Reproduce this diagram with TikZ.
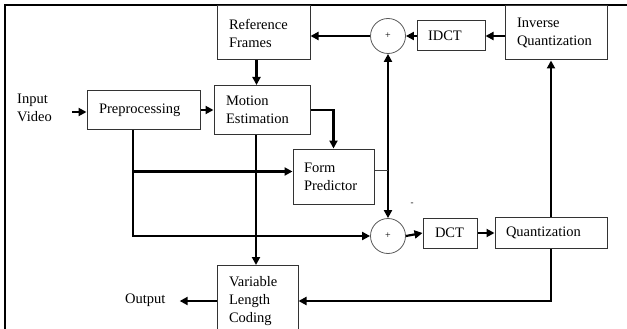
\documentclass[tikz,border=0pt]{standalone}
\usepackage{fontspec}
\setmainfont{Liberation Serif}
\usetikzlibrary{arrows.meta}
\begin{document}
\begin{tikzpicture}[x=1pt,y=-1pt,
  box/.style={draw=black!80,line width=1pt,rectangle,inner ysep=0pt,align=left,
     font=\fontsize{14.5}{18}\selectfont},
  sumc/.style={draw=black!65,line width=0.8pt,circle,minimum size=35pt,inner sep=0pt,
     font=\fontsize{10}{12}\selectfont},
  lbl/.style={inner sep=0pt,align=left,font=\fontsize{14.5}{18}\selectfont},
  tip/.tip={Triangle[length=8pt,width=8pt]},
  conn/.style={line width=2.2pt,-tip},
  thin/.style={line width=1pt,draw=black!75}]
\useasboundingbox (0,0) rectangle (627,329);
\clip (0,0) rectangle (627,329);
% frame
\draw[line width=2.8pt] (5,345) -- (5,5) -- (640,5);
% boxes
\node[box,inner xsep=12pt,text width=69pt,minimum height=54pt] (ref) at (263.5,33) {Reference\\Frames};
\node[box,inner xsep=12pt,text width=72pt,minimum height=49pt] (me) at (262,110) {Motion\\Estimation};
\node[box,inner xsep=12pt,text width=89pt,minimum height=39pt] (pre) at (143.5,110) {Preprocessing};
\node[box,inner xsep=11pt,text width=59pt,minimum height=55pt] (fp) at (333.5,176.5) {Form\\Predictor};
\node[box,inner xsep=12pt,text width=78pt,minimum height=54pt] (iq) at (556,33) {Inverse\\Quantization};
\node[box,inner xsep=11pt,text width=46pt,minimum height=30pt] (idct) at (451,36) {IDCT};
\node[box,inner xsep=12pt,text width=30pt,minimum height=30pt] (dct) at (450,233) {DCT};
\node[box,inner xsep=11pt,text width=90pt,minimum height=31pt] (q) at (551,233) {Quantization};
\node[box,inner xsep=12pt,text width=57pt,minimum height=71pt] (vlc) at (257.5,301) {Variable\\Length\\Coding};
\node[sumc] (c1) at (388,36) {+};
\node[sumc] (c2) at (388,236) {+};
% labels
\node[lbl,anchor=west] (iv) at (17,108) {Input\\Video};
\node[lbl,anchor=west] (out) at (125,300) {Output};
\node[inner sep=0pt,font=\fontsize{9}{10}\selectfont] (minus) at (412,204) {-};
\coordinate (ivend) at (72,112);
\coordinate (fpin) at ([yshift=5pt]fp.west);
\coordinate (fpout) at ([yshift=6pt]fp.east);
\coordinate (presplit) at ([xshift=-10.5pt]pre.south);
\coordinate (medown) at ([xshift=-6pt]me.south);
\coordinate (refdown) at ([xshift=-7pt]ref.south);
\coordinate (outr) at ([xshift=14pt]out.east);
% connectors
\draw[conn] (ivend) -- (ivend -| pre.west);
\draw[conn] (pre.east) -- (pre.east -| me.west);
\draw[conn] (refdown) -- (refdown |- me.north);
\draw[conn] (c1.west) -- (c1.west -| ref.east);
\draw[conn] (idct.west) -- (c1.east);
\draw[conn] (idct.east -| iq.west) -- (idct.east);
\draw[conn] (q.north) -- (q.north |- iq.south);
\draw[conn] (c2.east) -- (dct.west);
\draw[conn] (dct.east) -- (dct.east -| q.west);
\draw[conn] (q.south) |- (vlc.east);
\draw[conn] (vlc.west) -- (outr |- vlc.west);
\draw[conn] (medown) -- (medown |- vlc.north);
\draw[conn] (me.east) -| (fp.north);
\draw[conn] (presplit) |- (c2.west);
\draw[conn] (presplit |- fpin) -- (fpin);
\draw[line width=2.2pt,tip-tip] (c1.south) -- (c2.north);
\draw[thin] (fpout) -- (fpout -| c1.south);
\end{tikzpicture}
\end{document}
